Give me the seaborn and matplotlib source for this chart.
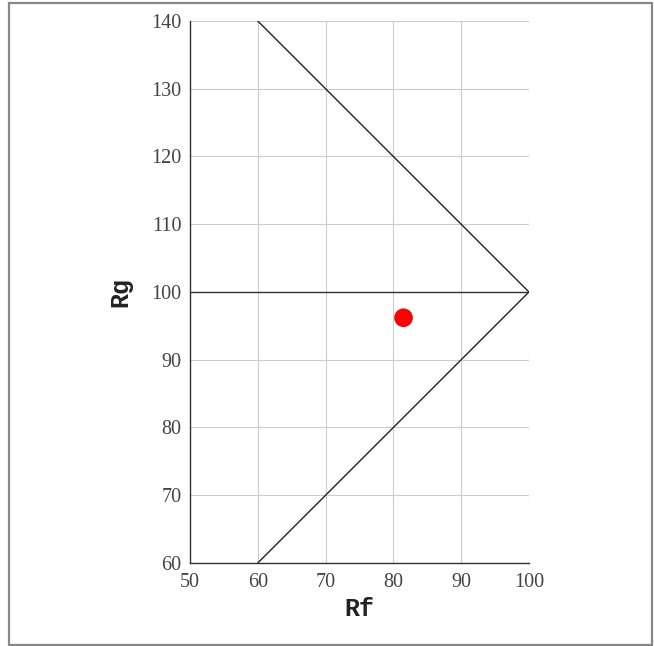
import matplotlib
matplotlib.use("Agg")
import matplotlib.pyplot as plt
import seaborn as sns
import pandas as pd
from matplotlib.patches import Rectangle

# Gamut boundary (Rf vs Rg)
boundary_rf = [60, 100, 60]
boundary_rg = [140, 100, 60]
# Reference line Rg = 100
ref_rf = [50, 100]
ref_rg = [100, 100]
# Measured sample
sample_rf = [81.5]
sample_rg = [96.2]

x_ticks = [50, 60, 70, 80, 90, 100]
y_ticks = [60, 70, 80, 90, 100, 110, 120, 130, 140]

sns.set_style("whitegrid")
plt.rcParams['font.family'] = ['Liberation Serif', 'DejaVu Serif']

fig = plt.figure(figsize=(6.54, 6.46), dpi=100)
ax = fig.add_axes([0.2905, 0.1285, 0.5183, 0.839])

df_b = pd.DataFrame({'Rf': boundary_rf, 'Rg': boundary_rg})
ax.plot(df_b['Rf'], df_b['Rg'], color='#222222', lw=1.0)
sns.lineplot(x=ref_rf, y=ref_rg, ax=ax, color='#333333', lw=1.0)
sns.scatterplot(x=sample_rf, y=sample_rg, ax=ax, color='#ff0000', s=180,
                edgecolor='none', zorder=5)

ax.set_xlim(50, 100)
ax.set_ylim(60, 140)
ax.set_xticks(x_ticks)
ax.set_yticks(y_ticks)
ax.grid(True, color='#cccccc', lw=0.8)
for side in ['top', 'right']:
    ax.spines[side].set_visible(False)
for side in ['left', 'bottom']:
    ax.spines[side].set_color('#333333')
    ax.spines[side].set_linewidth(1.0)
ax.tick_params(axis='both', direction='out', length=4, width=0.8,
               color='#333333', labelsize=14.5, labelcolor='#444444')
ax.tick_params(axis='x', pad=3)
ax.tick_params(axis='y', pad=2)

ax.set_xlabel('Rf', fontsize=18, fontweight='bold', family='Liberation Mono',
              labelpad=4, color='#222222')
ax.set_ylabel('Rg', fontsize=18, fontweight='bold', family='Liberation Mono',
              labelpad=14, color='#222222')

# outer frame
fig.add_artist(Rectangle((9 / 654, 1 / 646), 643 / 654, 642 / 646,
                         transform=fig.transFigure, fill=False,
                         edgecolor='#888888', lw=1.6))

fig.savefig('out.png', dpi=100)
